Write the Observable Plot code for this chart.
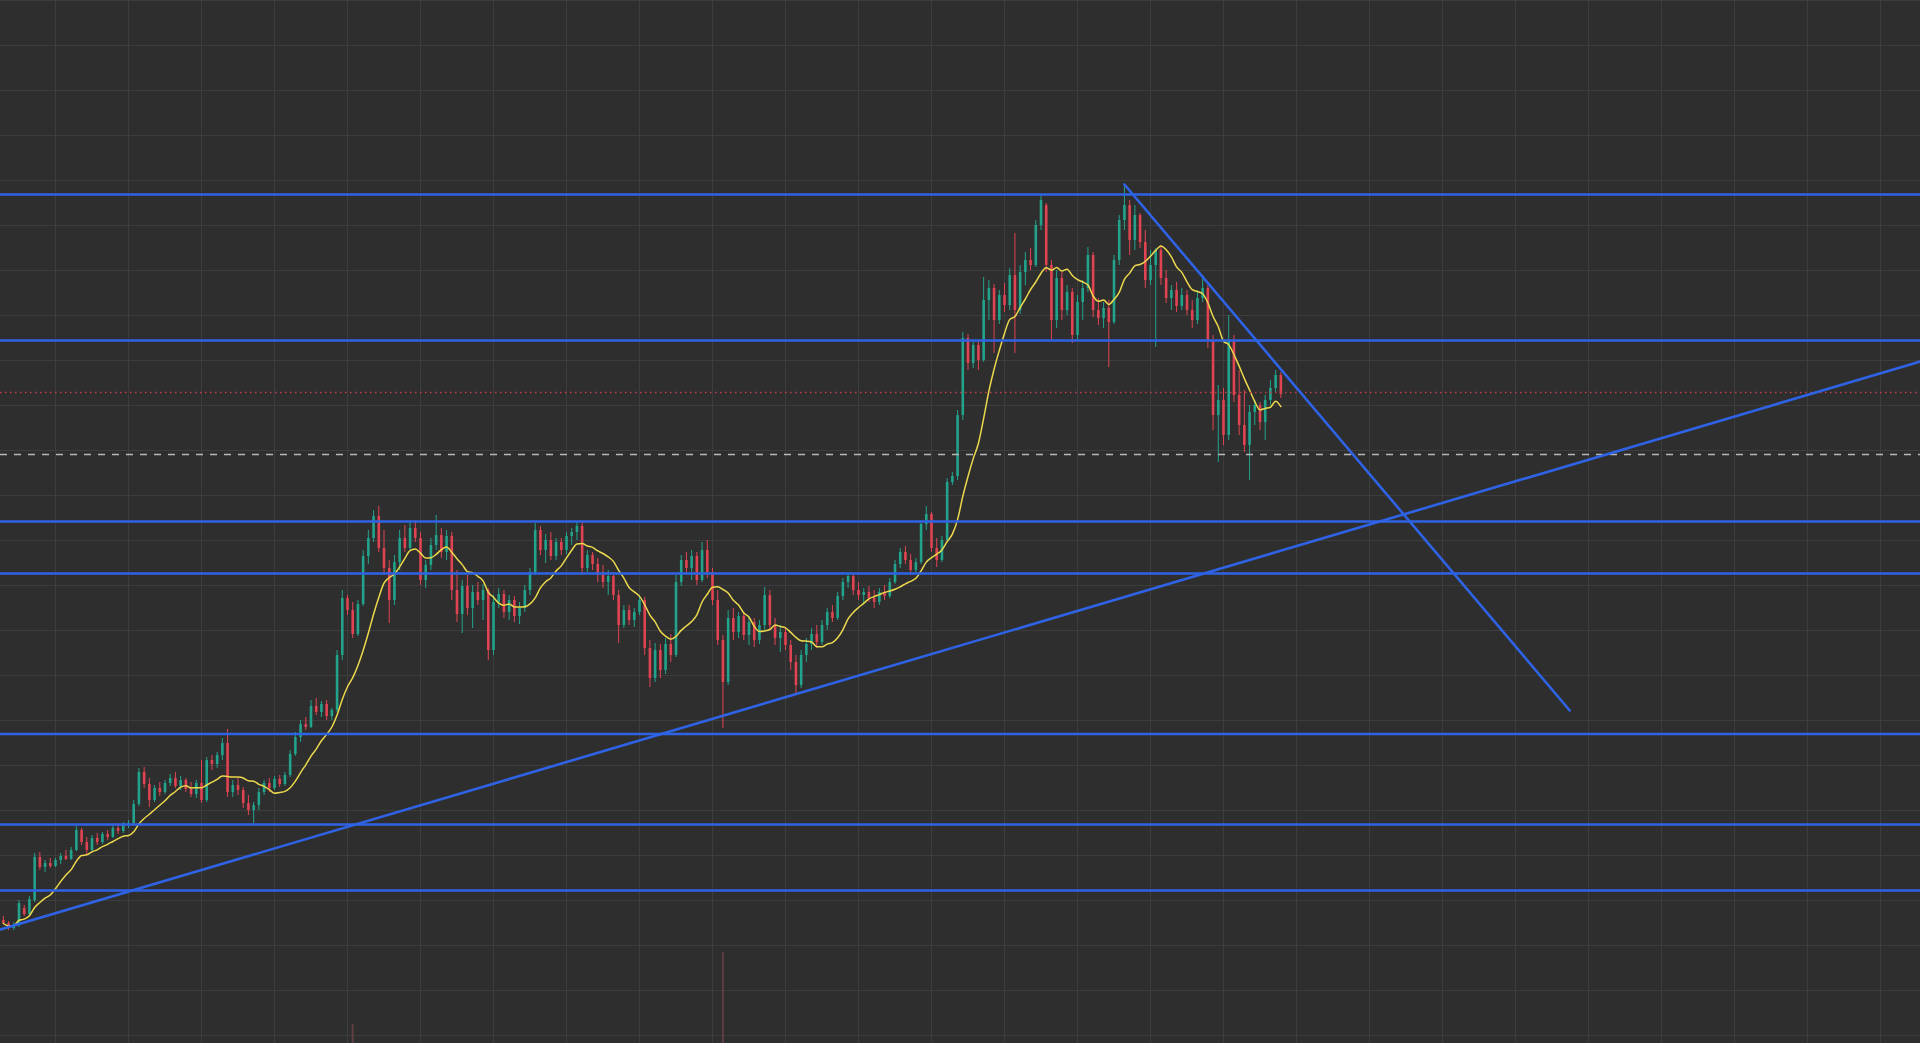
<!DOCTYPE html>
<html>
<head>
<meta charset="utf-8">
<script src="https://cdn.jsdelivr.net/npm/d3@7"></script>
<script src="https://cdn.jsdelivr.net/npm/@observablehq/plot@0.6"></script>
<style>
  html, body { margin: 0; padding: 0; background: #2e2e2e; overflow: hidden; }
  #wrap { position: relative; width: 1920px; height: 1043px; overflow: hidden; }
  #wrap svg { display: block; position: absolute; left: 0; top: 0; max-width: none !important; }
</style>
</head>
<body>
<div id="wrap"></div>
<script>
// ---- candle data (price units, one candle per period) ----
const open  = [80,77,72,75,92,86,100,143,133,137,134,140,144,141,150,170,158,150,162,158,166,163,172,169,175,177,196,228,216,200,212,208,217,222,214,220,211,206,217,200,240,236,245,257,208,215,210,197,190,195,208,217,212,221,216,225,246,263,276,273,294,288,296,284,290,345,402,390,366,396,444,462,484,452,432,400,438,462,452,472,462,420,435,455,465,448,464,410,386,414,392,408,400,410,350,398,406,388,400,384,392,410,428,470,450,460,444,458,450,464,468,474,432,445,436,425,418,424,405,375,390,380,388,400,352,322,350,330,356,345,418,440,432,444,420,450,428,400,360,318,382,368,384,365,378,360,375,405,375,362,368,355,338,315,345,356,366,358,375,388,382,404,418,424,410,405,408,402,398,408,404,418,436,448,440,430,438,476,486,452,440,460,518,524,585,662,637,655,640,700,712,680,705,695,725,690,728,740,735,775,795,735,680,722,690,708,665,698,712,745,690,682,692,678,740,780,795,760,785,758,720,735,750,722,702,710,694,705,690,680,702,712,660,585,600,565,660,605,575,555,588,595,578,600,612,625];
const high  = [84,79,78,100,95,104,147,148,140,142,142,147,150,153,174,172,163,165,167,168,170,175,177,178,180,200,232,233,222,215,218,220,226,228,224,222,218,220,240,243,245,248,262,271,220,222,213,205,198,212,220,222,224,225,228,250,268,280,283,300,302,299,300,292,350,410,405,398,400,450,470,490,494,470,440,445,470,475,478,480,468,440,462,485,472,470,468,430,420,425,415,418,416,412,405,412,410,405,404,398,415,432,477,474,466,468,462,462,468,472,478,478,450,448,442,435,430,428,410,395,395,392,405,403,360,357,356,362,366,425,445,448,450,448,458,460,432,410,365,390,392,388,388,384,382,380,413,410,382,375,372,360,345,350,362,372,375,380,392,395,408,422,428,426,418,412,414,410,412,415,422,440,452,454,446,442,480,494,488,462,464,522,528,590,668,666,660,660,723,720,716,710,717,732,767,735,748,752,780,805,797,740,730,728,715,712,705,720,753,748,702,698,700,745,785,816,800,795,787,770,750,752,755,730,715,718,712,710,700,710,725,715,665,615,612,685,665,630,610,595,600,598,605,620,630,628];
const low   = [76,70,70,73,84,85,98,130,128,132,133,136,140,140,149,155,146,149,155,156,160,162,166,167,172,175,194,212,193,198,204,206,214,212,210,208,203,202,197,198,230,232,240,203,203,205,192,185,177,190,205,208,210,213,214,223,244,258,270,272,285,283,280,280,288,340,385,362,364,394,436,458,448,425,377,395,430,448,450,458,415,412,430,450,442,440,400,378,367,385,372,395,380,340,345,392,382,380,378,376,388,405,425,445,437,440,440,445,446,455,460,425,428,430,418,412,405,400,357,372,375,373,385,345,313,318,322,326,338,343,414,425,420,415,418,422,395,355,272,315,360,362,360,355,353,356,370,370,355,348,350,330,307,312,338,350,352,355,370,378,380,400,412,405,400,396,398,392,395,400,402,416,432,436,425,427,436,470,448,433,438,458,515,520,580,630,632,630,638,680,647,676,688,690,647,686,715,730,733,770,728,660,672,680,685,657,660,680,708,683,675,672,633,676,735,770,745,750,752,712,715,653,715,697,690,688,690,685,672,676,698,652,570,538,555,560,598,565,548,520,575,570,560,595,608,602];
const close = [77,72,75,97,86,101,143,133,137,134,140,144,141,150,170,158,150,162,158,166,163,172,169,175,177,196,228,216,200,212,208,217,222,214,220,211,206,217,200,240,236,245,257,208,215,210,197,190,195,208,217,212,221,216,225,246,263,276,273,294,288,296,284,290,345,402,390,366,396,444,462,484,452,432,400,438,462,452,472,462,420,435,455,465,448,464,410,386,414,392,408,400,410,350,398,406,388,400,384,392,410,428,470,450,460,444,458,450,464,468,474,432,445,436,425,418,424,405,375,390,380,388,400,352,322,350,330,356,345,418,440,432,444,420,450,428,400,360,318,382,368,384,365,378,360,375,405,375,362,368,355,338,315,345,356,366,358,375,388,382,404,418,424,410,405,408,402,398,408,404,418,436,448,440,430,438,476,486,452,440,460,518,524,585,662,637,655,640,700,712,680,705,695,725,690,728,740,735,775,800,735,680,722,690,708,665,698,712,745,690,682,692,678,740,780,795,760,785,758,720,735,750,722,702,710,694,705,690,680,702,712,660,585,600,565,660,605,575,555,588,595,578,600,612,625,606];

// volume spikes visible above the bottom edge (period index, volume)
const volumePeriod = [67, 138];
const volumeValue  = [40, 100];

// drawn levels (price)
const supportResistance = [806, 660, 479, 427, 266.5, 176, 110];
const redDottedLevel = [608];
const whiteDashedLevel = [546];
// trend lines: [period, price] anchor points
const upTrendPeriod = [-1, 368];
const upTrendPrice  = [70.3, 639.5];
const downTrendPeriod = [215.0, 300.4];
const downTrendPrice  = [816, 290];

// grid ticks
const gridPeriods = d3.range(10, 368, 14);
const gridPrices = d3.range(-35, 1001, 45);

// ---- build tables ----
const candles = close.map((c, i) => ({t: i, o: open[i], h: high[i], l: low[i], c}));
const up = upTrendPeriod.map((t, i) => ({t, p: upTrendPrice[i]}));
const down = downTrendPeriod.map((t, i) => ({t, p: downTrendPrice[i]}));
const volume = volumePeriod.map((t, i) => ({t, v: volumeValue[i]}));

const GREEN = "#22a38c", RED = "#e04452", BLUE = "#2f63e6";
const xDomain = [-0.548, 367.67];

const main = Plot.plot({
  width: 1920, height: 1043, margin: 0,
  style: {background: "#2e2e2e", overflow: "hidden"},
  x: {domain: xDomain, axis: null},
  y: {domain: [-43, 1000], axis: null},
  marks: [
    Plot.ruleX(gridPeriods, {stroke: "#3d3d3d", strokeWidth: 1}),
    Plot.ruleY(gridPrices, {stroke: "#3d3d3d", strokeWidth: 1}),
    Plot.ruleX(candles, {x: "t", y1: "l", y2: "h", stroke: d => d.c >= d.o ? GREEN : RED, strokeWidth: 1}),
    Plot.ruleX(candles, {x: "t", y1: "o", y2: "c", stroke: d => d.c >= d.o ? GREEN : RED, strokeWidth: 2.6}),
    Plot.line(candles, Plot.windowY({k: 10, anchor: "end", reduce: "mean"}, {x: "t", y: "c", stroke: "#ecd84c", strokeWidth: 1.5, curve: "monotone-x"})),
    Plot.ruleY(redDottedLevel, {stroke: "#c4414b", strokeWidth: 1.3, strokeDasharray: "1.5,3.5"}),
    Plot.ruleY(whiteDashedLevel, {stroke: "#b8b8b8", strokeWidth: 1.5, strokeDasharray: "7,7"}),
    Plot.ruleY(supportResistance, {stroke: BLUE, strokeWidth: 2.6}),
    Plot.line(up, {x: "t", y: "p", stroke: BLUE, strokeWidth: 2.6}),
    Plot.line(down, {x: "t", y: "p", stroke: BLUE, strokeWidth: 2.6})
  ]
});

const vol = Plot.plot({
  width: 1920, height: 1043, margin: 0,
  style: {background: "transparent", overflow: "hidden"},
  x: {domain: xDomain, axis: null},
  y: {domain: [0, 100], range: [1072, 952], axis: null},
  marks: [
    Plot.ruleX(volume, {x: "t", y1: 0, y2: "v", stroke: "#5e3e42", strokeWidth: 2})
  ]
});

const wrap = document.getElementById("wrap");
wrap.appendChild(main);
wrap.appendChild(vol);
</script>
</body>
</html>
